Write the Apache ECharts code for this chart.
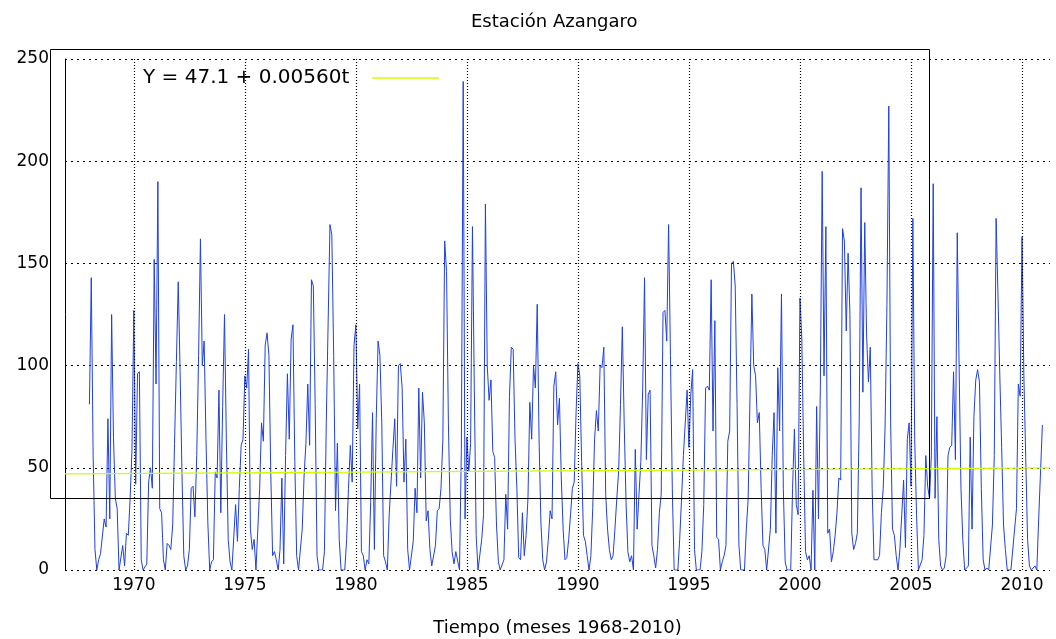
<!DOCTYPE html>
<html><head><meta charset="utf-8">
<script src="https://cdn.jsdelivr.net/npm/echarts@6/dist/echarts.min.js"></script>
<style>html,body{margin:0;padding:0;background:#fff}#c{width:1056px;height:639px}</style>
</head><body><div id="c"></div>
<script>
// Monthly precipitation, Estación Azangaro (Jan 1968 .. Dec 2010)
const startYear = 1968;
const rain1968_1969 = [
  81,143,56,10,0,5,8,8,25,21,74,25,
  125,65,35,30,0,0,12,2,18,17,35,59
];
const rain1970s = [
  127,42,96,97,5,0,0,3,43,50,40,152,
  91,190,30,28,5,0,13,12,10,22,62,102,
  141,97,48,7,0,2,10,40,41,26,56,105,
  162,100,112,64,23,0,4,5,48,45,88,28,
  80,125,64,15,4,0,0,32,14,40,61,64,
  95,89,108,20,10,15,0,0,40,72,63,110,
  116,105,48,7,9,5,0,10,45,3,56,96,
  64,113,120,53,7,0,0,20,46,62,91,61,
  142,139,81,7,0,0,0,9,72,121,169,164,
  105,29,62,15,0,0,0,15,40,61,43,110
];
const rain1980s = [
  120,69,91,9,7,0,5,3,33,77,10,74,
  112,105,72,7,4,0,27,27,59,74,41,100,
  101,89,43,64,10,0,0,14,40,28,89,45,
  87,72,24,29,10,2,2,12,29,30,40,64,
  161,146,72,25,9,3,9,9,0,59,239,25,
  65,48,62,168,89,17,0,0,15,27,179,100,
  83,93,58,55,22,4,0,0,5,37,20,85,
  109,108,64,40,6,5,28,7,17,35,82,64,
  100,89,130,64,23,5,0,4,15,29,25,90,
  97,71,84,45,20,5,6,15,27,40,43,77
];
const rain1990s = [
  101,95,53,17,14,7,0,7,30,64,78,68,
  100,99,109,37,20,10,5,7,20,35,48,81,
  119,72,33,9,4,7,0,59,20,37,53,89,
  143,54,86,88,12,7,1,10,28,37,126,127,
  112,169,105,40,0,0,0,15,35,56,72,88,
  60,86,98,10,0,0,0,9,32,89,90,88,
  142,68,122,16,15,0,4,7,12,63,68,150,
  151,139,81,12,0,0,0,20,35,35,135,100,
  95,72,77,40,12,10,0,0,20,56,77,18,
  99,68,135,40,4,0,0,0,40,69,32,27
];
const rain2000s = [
  133,113,56,9,5,7,0,39,0,80,25,89,
  195,95,168,18,20,4,9,17,28,45,44,167,
  161,117,155,125,18,10,13,18,72,187,87,170,
  115,92,109,40,5,5,5,7,28,40,70,130,
  227,72,20,17,7,0,10,27,44,11,64,72,
  41,172,64,27,0,0,5,17,56,41,35,56,
  189,35,75,15,2,0,1,7,56,60,61,97,
  54,165,100,40,15,0,0,2,65,20,75,93,
  98,92,40,5,0,1,0,0,22,56,172,135,
  95,60,22,10,0,0,0,0,20,30,91,85
];
const rain2010 = [163,95,55,15,2,0,0,2,0,25,25,71];

const yearTicks = [1970,1975,1980,1985,1990,1995,2000,2005,2010];
const yTicks = [0,50,100,150,200,250];
const trendName = 'Y = 47.1 + 0.00560t';
const trendLine = [[1966.9, 47.0], [2011.26, 50.0]];

const allRain = [].concat(rain1968_1969, rain1970s, rain1980s, rain1990s, rain2000s, rain2010);
const seriesData = allRain.map((v, i) => [startYear + i / 12, v]);

const FONT = 'DejaVu Sans';
const chart = echarts.init(document.getElementById('c'));
chart.setOption({
  animation: false,
  backgroundColor: '#fff',
  title: {
    text: 'Estación Azangaro', left: 466, top: 8,
    textStyle: {fontFamily: FONT, fontSize: 18, fontWeight: 'normal', color: '#000'}
  },
  legend: {
    left: 138, top: 63, align: 'right', icon: 'rect', itemWidth: 67, itemHeight: 1.5,
    selectedMode: false, data: [trendName],
    textStyle: {fontFamily: FONT, fontSize: 20, color: '#000', padding: [0, 18, 0, 0]}
  },
  grid: {left: 65, right: 6, top: 59, bottom: 69, containLabel: false, outerBoundsMode: 'none'},
  xAxis: {
    type: 'value', min: 1966.9, max: 2011.26,
    name: 'Tiempo (meses 1968-2010)', nameLocation: 'middle', nameGap: 49,
    nameTextStyle: {fontFamily: FONT, fontSize: 18, color: '#000'},
    axisLine: {show: false}, axisTick: {show: false}, splitLine: {show: false},
    axisLabel: {customValues: yearTicks, formatter: v => String(v),
      fontFamily: FONT, fontSize: 17, color: '#000', margin: 7}
  },
  yAxis: {
    type: 'value', min: 0, max: 250, interval: 50,
    axisLine: {show: true, lineStyle: {color: '#000', width: 1}},
    axisTick: {show: false},
    axisLabel: {fontFamily: FONT, fontSize: 17, color: '#000', margin: 16},
    splitLine: {show: true, lineStyle: {color: '#000', width: 1, type: [2, 4]}}
  },
  series: [
    {
      type: 'line', name: 'Azangaro', data: seriesData, showSymbol: false, symbol: 'none',
      lineStyle: {color: '#2040e0', width: 1}, z: 2,
      markLine: {
        silent: true, symbol: ['none', 'none'], label: {show: false},
        lineStyle: {color: '#000', width: 1.2, type: [1, 2]},
        data: yearTicks.map(y => ({xAxis: y}))
      }
    },
    {
      type: 'line', name: trendName, data: trendLine, showSymbol: false, symbol: 'none',
      lineStyle: {color: '#ccff00', width: 1.2}, itemStyle: {color: '#ccff00'}, z: 3
    }
  ],
  graphic: [
    {type: 'rect', z: 100, silent: true,
     shape: {x: 50.5, y: 49.5, width: 879, height: 449},
     style: {fill: 'none', stroke: '#000', lineWidth: 1}}
  ]
});
</script></body></html>
